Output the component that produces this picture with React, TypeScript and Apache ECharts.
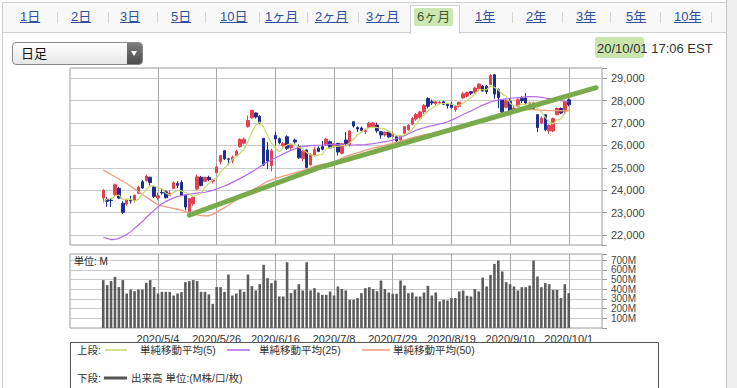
import React, { useEffect, useRef } from 'react';
import * as echarts from 'echarts';

const FONT = '"Liberation Sans", Arial, "Noto Sans CJK JP", sans-serif';

// ---------- categories ----------
const leadDates = ['2020/4/1', '2020/4/2', '2020/4/3', '2020/4/6', '2020/4/7', '2020/4/8', '2020/4/9', '2020/4/13'];
const dates = [
  '2020/4/14', '2020/4/15', '2020/4/16', '2020/4/17', '2020/4/20', '2020/4/21', '2020/4/22', '2020/4/23', '2020/4/24', '2020/4/27',
  '2020/4/28', '2020/4/29', '2020/4/30', '2020/5/1', '2020/5/4', '2020/5/5', '2020/5/6', '2020/5/7', '2020/5/8', '2020/5/11',
  '2020/5/12', '2020/5/13', '2020/5/14', '2020/5/15', '2020/5/18', '2020/5/19', '2020/5/20', '2020/5/21', '2020/5/22', '2020/5/26',
  '2020/5/27', '2020/5/28', '2020/5/29', '2020/6/1', '2020/6/2', '2020/6/3', '2020/6/4', '2020/6/5', '2020/6/8', '2020/6/9',
  '2020/6/10', '2020/6/11', '2020/6/12', '2020/6/15', '2020/6/16', '2020/6/17', '2020/6/18', '2020/6/19', '2020/6/22', '2020/6/23',
  '2020/6/24', '2020/6/25', '2020/6/26', '2020/6/29', '2020/6/30', '2020/7/1', '2020/7/2', '2020/7/6', '2020/7/7', '2020/7/8',
  '2020/7/9', '2020/7/10', '2020/7/13', '2020/7/14', '2020/7/15', '2020/7/16', '2020/7/17', '2020/7/20', '2020/7/21', '2020/7/22',
  '2020/7/23', '2020/7/24', '2020/7/27', '2020/7/28', '2020/7/29', '2020/7/30', '2020/7/31', '2020/8/3', '2020/8/4', '2020/8/5',
  '2020/8/6', '2020/8/7', '2020/8/10', '2020/8/11', '2020/8/12', '2020/8/13', '2020/8/14', '2020/8/17', '2020/8/18', '2020/8/19',
  '2020/8/20', '2020/8/21', '2020/8/24', '2020/8/25', '2020/8/26', '2020/8/27', '2020/8/28', '2020/8/31', '2020/9/1', '2020/9/2',
  '2020/9/3', '2020/9/4', '2020/9/8', '2020/9/9', '2020/9/10', '2020/9/11', '2020/9/14', '2020/9/15', '2020/9/16', '2020/9/17',
  '2020/9/18', '2020/9/21', '2020/9/22', '2020/9/23', '2020/9/24', '2020/9/25', '2020/9/28', '2020/9/29', '2020/9/30', '2020/10/1',
];
const futureDates = ['2020/10/2', '2020/10/5', '2020/10/6', '2020/10/7', '2020/10/8', '2020/10/9', '2020/10/12', '2020/10/13'];
const labelDates = ['2020/5/4', '2020/5/26', '2020/6/16', '2020/7/8', '2020/7/29', '2020/8/19', '2020/9/10', '2020/10/1'];

// ---------- price (OHLC) ----------
const opens = [
  23650, 23600, 23560, 23800, 24080, 23420, 23380, 23550, 23560, 23860,
  24380, 24420, 24580, 24150, 23650, 23900, 23930, 23760, 24080, 24300,
  24350, 23780, 23050, 23400, 24050, 24580, 24400, 24575, 24400, 24780,
  25270, 25760, 25400, 25340, 25540, 25945, 26100, 26840, 27230, 27450,
  27300, 26320, 25800, 25100, 26450, 26300, 26000, 26390, 25900, 26240,
  25945, 25425, 25800, 25130, 25570, 25880, 25950, 26020, 26170, 25950,
  26095, 25650, 26240, 26020, 27060, 26800, 26780, 26620, 26810, 26820,
  26910, 26615, 26470, 26600, 26400, 26390, 26250, 26550, 26700, 26950,
  27180, 27260, 27500, 28100, 27950, 27870, 27900, 27950, 27850, 27850,
  27600, 27750, 28120, 28200, 28400, 28385, 28535, 28650, 28640, 28715,
  29160, 28490, 28045, 27710, 27970, 27600, 27750, 28100, 28120, 27850,
  27900, 27375, 27000, 27375, 26650, 26650, 27375, 27650, 27525, 28040,
];
const closes = [
  24000, 23504, 23538, 24242, 23650, 23019, 23560, 23515, 23775, 24134,
  24100, 24634, 24346, 23724, 23750, 23883, 23665, 23876, 24331, 24222,
  23765, 23248, 23625, 23685, 24597, 24207, 24576, 24474, 24465, 25040,
  25548, 25400, 25383, 25475, 25743, 26270, 26282, 27111, 27572, 27272,
  26990, 25128, 25300, 25763, 26290, 26120, 26080, 25871, 26025, 26156,
  25446, 25746, 25016, 25596, 25813, 25735, 25827, 26287, 25890, 26067,
  25706, 26075, 26086, 26643, 26870, 26735, 26672, 26681, 27000, 27006,
  26652, 26470, 26585, 26379, 26540, 26200, 26428, 26840, 26900, 27202,
  27387, 27500, 27791, 27750, 27900, 27950, 27931, 27845, 27778, 27693,
  27740, 27930, 28308, 28370, 28332, 28565, 28745, 28430, 28400, 29130,
  28293, 28133, 27501, 27990, 27535, 27666, 28045, 28000, 27900, 27902,
  27660, 26800, 27225, 26700, 26900, 27200, 27650, 27450, 27950, 27820,
];
const lows = [
  23450, 23260, 23250, 23750, 23600, 22940, 23300, 23400, 23450, 23850,
  24050, 24400, 24200, 23650, 23550, 23800, 23630, 23750, 24050, 24100,
  23750, 23100, 22790, 23300, 24000, 24180, 24380, 24400, 24300, 24780,
  25150, 25350, 25120, 25200, 25500, 25900, 26050, 26800, 27200, 27200,
  26950, 25080, 24950, 24840, 26000, 26050, 25900, 25800, 25800, 26050,
  25400, 25300, 24990, 25100, 25500, 25700, 25780, 26000, 25880, 25900,
  25550, 25600, 26000, 25950, 26800, 26600, 26600, 26500, 26780, 26800,
  26560, 26300, 26400, 26350, 26380, 26080, 26100, 26500, 26650, 26900,
  27100, 27200, 27400, 27650, 27800, 27800, 27850, 27800, 27650, 27650,
  27500, 27700, 28100, 28150, 28250, 28300, 28500, 28400, 28300, 28700,
  28080, 27665, 27450, 27650, 27450, 27500, 27700, 27900, 27850, 27700,
  27600, 26600, 26950, 26630, 26520, 26600, 27350, 27400, 27450, 27750,
];
const highs = [
  24050, 23700, 23650, 24300, 24150, 23500, 23600, 23750, 23800, 24200,
  24450, 24700, 24600, 24180, 23900, 24100, 24000, 24000, 24400, 24400,
  24450, 23800, 23650, 23700, 24700, 24640, 24600, 24650, 24500, 25100,
  25580, 25800, 25450, 25550, 25800, 26320, 26350, 27340, 27580, 27480,
  27350, 26330, 26150, 25850, 26610, 26350, 26150, 26450, 26100, 26300,
  26050, 25800, 25820, 25650, 25950, 25960, 26200, 26350, 26220, 26100,
  26110, 26100, 26600, 26690, 27080, 26850, 26850, 26750, 27050, 27050,
  27020, 26650, 26620, 26650, 26600, 26420, 26450, 26870, 26950, 27280,
  27450, 27550, 27850, 28150, 28050, 28000, 27980, 28000, 27900, 27950,
  27800, 27950, 28400, 28400, 28420, 28620, 28760, 28700, 28700, 29200,
  29200, 28550, 28050, 28100, 28100, 27800, 28100, 28200, 28340, 27950,
  27950, 27400, 27300, 27400, 26950, 27250, 27700, 27700, 28000, 28100,
];

// ---------- moving averages ----------
const ma5 = [
  23490, 23609, 23630, 23735, 23787, 23591, 23602, 23597, 23504, 23601,
  23817, 24032, 24198, 24188, 24111, 24067, 23874, 23780, 23901, 23995,
  23972, 23888, 23838, 23709, 23784, 23872, 24138, 24308, 24464, 24552,
  24821, 24985, 25167, 25369, 25510, 25654, 25831, 26176, 26596, 26901,
  27045, 26815, 26452, 26091, 25894, 25720, 25911, 26025, 26077, 26050,
  25916, 25849, 25678, 25592, 25523, 25581, 25597, 25852, 25910, 25961,
  25955, 26005, 25965, 26115, 26276, 26482, 26601, 26720, 26792, 26819,
  26802, 26762, 26743, 26618, 26525, 26435, 26426, 26477, 26582, 26714,
  26951, 27166, 27356, 27526, 27666, 27778, 27864, 27875, 27881, 27839,
  27797, 27797, 27890, 28008, 28136, 28301, 28464, 28488, 28494, 28654,
  28600, 28477, 28291, 28209, 27890, 27765, 27747, 27847, 27829, 27903,
  27901, 27652, 27497, 27257, 27057, 26965, 27135, 27180, 27430, 27614,
];
const ma25 = [
  21900, 21850, 21790, 21800, 21850, 21930, 22020, 22150, 22300, 22450,
  22600, 22780, 22950, 23100, 23250, 23400, 23500, 23580, 23660, 23720,
  23760, 23790, 23820, 23850, 23870, 23890, 23910, 23950, 23990, 24060,
  24120, 24190, 24260, 24350, 24440, 24530, 24620, 24720, 24820, 24930,
  25050, 25160, 25260, 25350, 25440, 25530, 25620, 25700, 25780, 25850,
  25910, 25950, 25970, 25990, 26000, 26010, 26020, 26040, 26050, 26050,
  26040, 26030, 26020, 26020, 26020, 26030, 26030, 26040, 26060, 26080,
  26110, 26140, 26170, 26200, 26240, 26300, 26370, 26440, 26520, 26600,
  26680, 26740, 26790, 26840, 26880, 26920, 26960, 27000, 27060, 27130,
  27210, 27290, 27380, 27460, 27540, 27630, 27720, 27800, 27870, 27940,
  27990, 28030, 28060, 28080, 28100, 28120, 28140, 28150, 28170, 28180,
  28180, 28170, 28150, 28120, 28090, 28060, 28030, 28000, 27970, 27940,
];
const ma50 = [
  24900, 24800, 24700, 24600, 24500, 24400, 24300, 24180, 24060, 23930,
  23810, 23700, 23580, 23450, 23350, 23300, 23260, 23220, 23190, 23150,
  23100, 23040, 22980, 22940, 22900, 22870, 22850, 22860, 22920, 23020,
  23120, 23220, 23330, 23450, 23560, 23670, 23780, 23890, 24000, 24100,
  24190, 24300, 24400, 24460, 24520, 24570, 24630, 24680, 24730, 24780,
  24830, 24880, 24940, 25000, 25060, 25110, 25150, 25180, 25200, 25250,
  25330, 25420, 25510, 25570, 25620, 25670, 25720, 25790, 25840, 25880,
  25920, 25960, 26000, 26050, 26090, 26140, 26190, 26240, 26290, 26340,
  26390, 26430, 26470, 26510, 26540, 26580, 26620, 26650, 26690, 26730,
  26780, 26820, 26870, 26910, 26950, 26990, 27050, 27110, 27170, 27230,
  27290, 27350, 27400, 27440, 27480, 27520, 27550, 27580, 27600, 27610,
  27600, 27590, 27580, 27570, 27560, 27560, 27555, 27550, 27550, 27550,
];

// hand-drawn trend line (date, value)
const trendLine = [['2020/5/14', 22890], ['2020/7/1', 25000], ['2020/10/12', 28580]];

// ---------- volume (M) ----------
const volumes = [
  495, 443, 485, 529, 423, 495, 357, 398, 381, 398,
  398, 467, 495, 423, 357, 374, 374, 374, 336, 357,
  371, 474, 485, 495, 485, 374, 374, 347, 250, 423,
  423, 374, 553, 336, 357, 398, 374, 553, 433, 388,
  453, 653, 515, 464, 491, 326, 326, 680, 361, 395,
  453, 388, 680, 388, 412, 367, 343, 343, 377, 336,
  429, 402, 388, 292, 292, 309, 361, 412, 422, 402,
  380, 491, 402, 367, 354, 354, 491, 439, 360, 367,
  326, 326, 367, 436, 336, 367, 275, 292, 285, 309,
  309, 378, 388, 333, 326, 402, 378, 522, 429, 549,
  663, 697, 584, 474, 453, 429, 388, 422, 422, 439,
  697, 532, 422, 464, 453, 395, 395, 309, 453, 360,
];

const priceTicks = [22000, 23000, 24000, 25000, 26000, 27000, 28000, 29000];
const volumeTicks = [100, 200, 300, 400, 500, 600, 700];

const TABS = ['1日', '2日', '3日', '5日', '10日', '1ヶ月', '2ヶ月', '3ヶ月', '6ヶ月', '1年', '2年', '3年', '5年', '10年'];
const TAB_X = [20, 71, 120, 171, 220, 265, 315, 366, 417, 475, 526, 576, 626, 674];
const SEP_X = [57, 108, 157, 205, 259, 307, 358, 512, 562, 610, 660, 711];

const legendItems = [
  { name: '単純移動平均(5)', color: '#c6d86a', x1: 105, x2: 127, tx: 140 },
  { name: '単純移動平均(25)', color: '#b468e6', x1: 227, x2: 250, tx: 259 },
  { name: '単純移動平均(50)', color: '#ef9a7a', x1: 362, x2: 390, tx: 393 },
];

function buildOption(): any {
  const cats = [...leadDates, ...dates, ...futureDates];
  const pad = (arr: any[]) => [...leadDates.map(() => '-'), ...arr, ...futureDates.map(() => '-')];
  const candles = dates.map((_, i) => [opens[i], closes[i], lows[i], highs[i]]);
  const isLabel = (_i: number, v: string) => labelDates.includes(v);

  const baseX = {
    type: 'category',
    data: cats,
    boundaryGap: true,
    axisLine: { show: false },
    axisTick: { show: false },
    splitLine: { show: true, interval: isLabel, alignWithLabel: true, lineStyle: { color: '#a9a9a9', width: 1 } },
  };

  const legendGraphics: any[] = [];
  legendItems.forEach((it) => {
    legendGraphics.push({
      type: 'line', shape: { x1: it.x1, y1: 350, x2: it.x2, y2: 350 },
      style: { stroke: it.color, lineWidth: 1.5 }, z: 10,
    });
    legendGraphics.push({
      type: 'text', x: it.tx, y: 350,
      style: { text: it.name, fill: '#333', font: `10.5px ${FONT}`, verticalAlign: 'middle' }, z: 10,
    });
  });

  return {
    animation: false,
    textStyle: { fontFamily: FONT },
    grid: [
      { left: 70, top: 68, width: 532, height: 177, show: true, borderColor: '#9a9a9a', borderWidth: 1, backgroundColor: 'transparent' },
      { left: 70, top: 254, width: 532, height: 74, show: true, borderColor: '#9a9a9a', borderWidth: 1, backgroundColor: 'transparent' },
    ],
    xAxis: [
      { ...baseX, gridIndex: 0, axisLabel: { show: false } },
      {
        ...baseX, gridIndex: 1,
        axisLabel: { show: true, interval: isLabel, color: '#333', fontSize: 11, margin: 5, hideOverlap: false, fontFamily: FONT },
      },
    ],
    yAxis: [
      {
        type: 'value', gridIndex: 0, position: 'right', min: 21553, max: 29460, splitNumber: 8,
        axisLine: { show: false },
        axisTick: { show: true, length: 5, lineStyle: { color: '#999' } },
        axisLabel: {
          color: '#444', fontSize: 11, margin: 9, fontFamily: FONT,
          formatter: (v: number) => (priceTicks.includes(Math.round(v)) ? Math.round(v).toLocaleString('en-US') : ''),
        },
        splitLine: { show: true, lineStyle: { color: '#cbcbcb', width: 1 } },
      },
      {
        type: 'value', gridIndex: 1, position: 'right', min: 0, max: 765, interval: 100,
        axisLine: { show: false },
        axisTick: { show: true, length: 5, lineStyle: { color: '#999' } },
        axisLabel: {
          color: '#444', fontSize: 10, margin: 9, fontFamily: FONT, lineHeight: 10,
          formatter: (v: number) => (volumeTicks.includes(Math.round(v)) ? `${Math.round(v)}M` : ''),
        },
        splitLine: { show: true, lineStyle: { color: '#cbcbcb', width: 1 } },
      },
    ],
    series: [
      {
        name: '日足', type: 'candlestick', xAxisIndex: 0, yAxisIndex: 0, data: pad(candles), barWidth: 3,
        itemStyle: { color: '#e5404e', color0: '#1d2f8e', borderColor: '#e5404e', borderColor0: '#1d2f8e', borderWidth: 1 },
        z: 2,
      },
      {
        name: '単純移動平均(50)', type: 'line', xAxisIndex: 0, yAxisIndex: 0, data: pad(ma50), symbol: 'none',
        lineStyle: { color: '#ef9a7a', width: 1.3 }, z: 3,
      },
      {
        name: '単純移動平均(25)', type: 'line', xAxisIndex: 0, yAxisIndex: 0, data: pad(ma25), symbol: 'none',
        lineStyle: { color: '#b468e6', width: 1.2 }, z: 3,
      },
      {
        name: '単純移動平均(5)', type: 'line', xAxisIndex: 0, yAxisIndex: 0, data: pad(ma5), symbol: 'none',
        lineStyle: { color: '#c6d86a', width: 1.2 }, z: 3,
      },
      {
        name: 'トレンドライン', type: 'line', xAxisIndex: 0, yAxisIndex: 0, data: trendLine, symbol: 'none',
        lineStyle: { color: '#79aa4b', width: 5, cap: 'round', join: 'round' }, z: 4,
      },
      {
        name: '出来高', type: 'bar', xAxisIndex: 1, yAxisIndex: 1, data: pad(volumes), barWidth: 2.6,
        itemStyle: { color: '#5c5c5c' },
      },
    ],
    graphic: [
      { type: 'text', x: 74, y: 261.5, style: { text: '単位: M', fill: '#222', font: `10px ${FONT}`, verticalAlign: 'middle' }, z: 10 },
      { type: 'rect', shape: { x: 70.5, y: 342.5, width: 588, height: 70 }, style: { fill: '#fff', stroke: '#555', lineWidth: 1 }, z: 1 },
      { type: 'text', x: 77, y: 350, style: { text: '上段:', fill: '#333', font: `10.5px ${FONT}`, verticalAlign: 'middle' }, z: 10 },
      ...legendGraphics,
      { type: 'text', x: 77, y: 378, style: { text: '下段:', fill: '#333', font: `10.5px ${FONT}`, verticalAlign: 'middle' }, z: 10 },
      { type: 'line', shape: { x1: 104, y1: 378, x2: 127, y2: 378 }, style: { stroke: '#555', lineWidth: 3 }, z: 10 },
      { type: 'text', x: 131, y: 378, style: { text: '出来高 単位:(M株/口/枚)', fill: '#333', font: `10.5px ${FONT}`, verticalAlign: 'middle' }, z: 10 },
    ],
  };
}

export default function App() {
  const ref = useRef<HTMLDivElement>(null);
  useEffect(() => {
    if (!ref.current) return;
    const chart = echarts.init(ref.current, null, { renderer: 'svg' });
    chart.setOption(buildOption());
    return () => chart.dispose();
  }, []);

  return (
    <div style={{ position: 'fixed', left: 0, top: 0, width: 737, height: 388, background: '#fff', overflow: 'hidden', fontFamily: FONT }}>
      {/* outer frame */}
      <div style={{ position: 'absolute', left: 2, top: 2, width: 724, height: 400, borderLeft: '1px solid #cfcfcf', borderTop: '1px solid #cfcfcf', boxSizing: 'border-box' }} />
      <div style={{ position: 'absolute', left: 3, top: 3, width: 723, height: 29, background: '#f8f8f8' }} />
      <div style={{ position: 'absolute', left: 726, top: 0, width: 11, height: 388, background: '#eeeeee', borderLeft: '1px solid #c6c6c6', boxSizing: 'border-box' }} />
      {/* tab bar bottom line */}
      <div style={{ position: 'absolute', left: 3, top: 32, width: 407, height: 1, background: '#cfcfcf' }} />
      <div style={{ position: 'absolute', left: 460, top: 32, width: 266, height: 1, background: '#cfcfcf' }} />
      {/* active tab */}
      <div style={{ position: 'absolute', left: 410, top: 5, width: 50, height: 29, background: '#fff', border: '1px solid #cfcfcf', borderBottom: 'none', boxSizing: 'border-box' }} />
      {SEP_X.map((x) => (
        <div key={x} style={{ position: 'absolute', left: x, top: 12, width: 1, height: 11, background: '#d4d4d4' }} />
      ))}
      {TABS.map((t, i) =>
        t === '6ヶ月' ? (
          <span key={t} style={{ position: 'absolute', left: TAB_X[i] - 3, top: 8, fontSize: 13, lineHeight: '16px', color: '#3d5a2a', background: '#cde7b2', padding: '1px 3px', borderRadius: 2 }}>{t}</span>
        ) : (
          <span key={t} style={{ position: 'absolute', left: TAB_X[i], top: 9, fontSize: 13, lineHeight: '16px', color: '#2f4f9f', textDecoration: 'underline' }}>{t}</span>
        )
      )}
      {/* dropdown */}
      <div style={{ position: 'absolute', left: 12, top: 42, width: 131, height: 23, border: '1px solid #8a8a8a', borderRadius: 4, boxSizing: 'border-box', background: 'linear-gradient(#ffffff, #e6e6e6)', overflow: 'hidden' }}>
        <span style={{ position: 'absolute', left: 8, top: 3, fontSize: 13, lineHeight: '16px', color: '#111' }}>日足</span>
        <div style={{ position: 'absolute', right: 0, top: 0, width: 15, height: 21, background: 'linear-gradient(#7c7c7c, #4c4c4c)' }}>
          <div style={{ position: 'absolute', left: 4, top: 8, width: 0, height: 0, borderLeft: '3.5px solid transparent', borderRight: '3.5px solid transparent', borderTop: '5px solid #fff' }} />
        </div>
      </div>
      {/* timestamp */}
      <div style={{ position: 'absolute', left: 595, top: 37, width: 49, height: 21, background: '#c9e5ab', borderRadius: 3 }} />
      <span style={{ position: 'absolute', left: 597, top: 41, fontSize: 13, lineHeight: '16px', color: '#333', whiteSpace: 'nowrap' }}>20/10/01 17:06 EST</span>
      {/* chart */}
      <div ref={ref} style={{ position: 'absolute', left: 0, top: 0, width: 737, height: 388 }} />
    </div>
  );
}
